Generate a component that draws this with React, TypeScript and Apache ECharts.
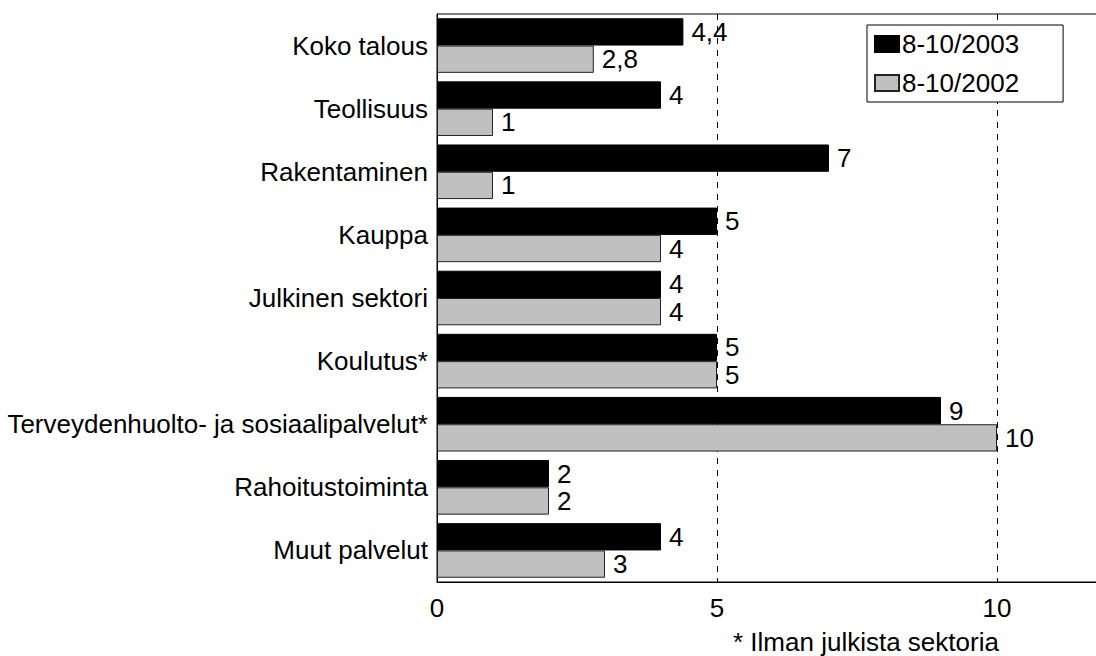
import React, { useEffect, useRef } from "react";
import * as echarts from "echarts";

const categories = [
  "Koko talous",
  "Teollisuus",
  "Rakentaminen",
  "Kauppa",
  "Julkinen sektori",
  "Koulutus*",
  "Terveydenhuolto- ja sosiaalipalvelut*",
  "Rahoitustoiminta",
  "Muut palvelut",
];
const values2003 = [4.4, 4, 7, 5, 4, 5, 9, 2, 4];
const values2002 = [2.8, 1, 1, 4, 4, 5, 10, 2, 3];
const seriesNames = ["8-10/2003", "8-10/2002"];
const footnote = "* Ilman julkista sektoria";

const FONT = "'Liberation Sans', Arial, sans-serif";
const FS = 26;

export default function App() {
  const ref = useRef<HTMLDivElement>(null);
  useEffect(() => {
    if (!ref.current) return;
    const chart = echarts.init(ref.current, null, { renderer: "svg" });
    const fmt = (p: any) => String(p.value).replace(".", ",");
    chart.setOption({
      animation: false,
      backgroundColor: "#fff",
      textStyle: { fontFamily: FONT },
      grid: {
        left: 437,
        top: 14,
        width: 672,
        height: 568,
        show: true,
        borderColor: "#000",
        borderWidth: 1,
        backgroundColor: "transparent",
      },
      legend: {
        orient: "vertical",
        left: 867,
        top: 25,
        padding: [6, 44, 6, 7],
        itemWidth: 24,
        itemHeight: 16,
        itemGap: 13,
        icon: "rect",
        borderColor: "#000",
        borderWidth: 1,
        backgroundColor: "#fff",
        borderRadius: 0,
        textStyle: { fontSize: FS, color: "#000", fontFamily: FONT, padding: [0, 0, 0, -2] },
        data: seriesNames,
      },
      xAxis: {
        type: "value",
        min: 0,
        max: 12,
        interval: 5,
        axisLine: { show: true, lineStyle: { color: "#000", width: 1 } },
        axisTick: { show: false },
        axisLabel: {
          fontSize: FS,
          color: "#000",
          fontFamily: FONT,
          margin: 13,
          showMaxLabel: false,
        },
        splitLine: {
          show: true,
          lineStyle: { color: "#000", type: [6, 6], width: 1 },
        },
      },
      yAxis: {
        type: "category",
        inverse: true,
        data: categories,
        axisLine: { show: true, lineStyle: { color: "#000", width: 1 } },
        axisTick: { show: false },
        axisLabel: { fontSize: FS, color: "#000", fontFamily: FONT, margin: 9 },
        splitLine: { show: false },
      },
      series: [
        {
          name: seriesNames[0],
          type: "bar",
          data: values2003,
          barGap: "0%",
          barCategoryGap: "13.5%",
          itemStyle: { color: "#000", borderColor: "#000", borderWidth: 1 },
          label: {
            show: true,
            position: "right",
            distance: 8,
            fontSize: FS,
            color: "#000",
            fontFamily: FONT,
            formatter: fmt,
          },
        },
        {
          name: seriesNames[1],
          type: "bar",
          data: values2002,
          barGap: "0%",
          barCategoryGap: "13.5%",
          itemStyle: { color: "#c0c0c0", borderColor: "#222", borderWidth: 1 },
          label: {
            show: true,
            position: "right",
            distance: 8,
            fontSize: FS,
            color: "#000",
            fontFamily: FONT,
            formatter: fmt,
          },
        },
      ],
      graphic: [
        {
          type: "text",
          x: 733,
          y: 642,
          style: {
            text: footnote,
            fill: "#000",
            font: `${FS}px ${FONT}`,
            verticalAlign: "middle",
            textVerticalAlign: "middle",
          },
        },
      ],
    });
    return () => chart.dispose();
  }, []);
  return (
    <div
      style={{
        position: "fixed",
        left: 0,
        top: 0,
        width: 1096,
        height: 656,
        overflow: "hidden",
        background: "#fff",
      }}
    >
      <div ref={ref} style={{ width: 1120, height: 656 }} />
    </div>
  );
}
